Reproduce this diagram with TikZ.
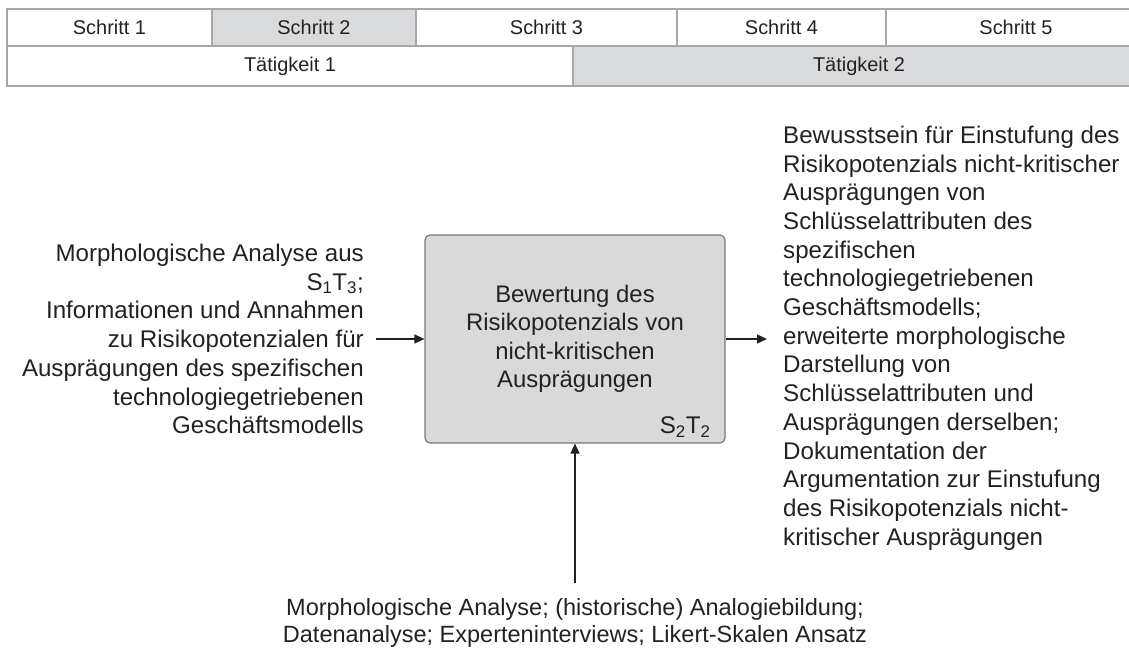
\documentclass[tikz,border=0pt]{standalone}
\usepackage{fontspec}
\setmainfont{Liberation Sans}
\usetikzlibrary{arrows.meta}
\definecolor{ink}{HTML}{222222}
\definecolor{gridline}{HTML}{A8A8A8}
\definecolor{cellfill}{HTML}{D9DADC}
\definecolor{boxfill}{HTML}{D9D9D9}
\definecolor{boxline}{HTML}{6F7B88}
\begin{document}
\begin{tikzpicture}[x=1bp,y=-1bp,
  cell/.style={draw=gridline, line width=1.2bp, inner sep=0pt,
    font=\fontsize{20}{24}\selectfont, text=ink},
  bodytext/.style={inner sep=0pt, text=ink,
    font=\fontsize{24.2}{28.8}\selectfont},
  procbox/.style={draw=boxline, fill=boxfill, line width=1.2bp,
    rounded corners=5bp, minimum width=300bp, minimum height=208bp,
    inner sep=0pt, align=center, text=ink,
    font=\fontsize{24}{28.5}\selectfont},
  arr/.style={draw=ink, line width=1.5bp,
    -{Triangle[length=10bp,width=9bp]}}]
\path[use as bounding box] (0,0) rectangle (1129,648);

% step and activity header
\node[cell, minimum width=205bp, minimum height=37bp] (s1) at (109.5,27.5) {Schritt 1};
\node[cell, fill=cellfill, minimum width=204bp, minimum height=37bp] (s2) at (314,27.5) {Schritt 2};
\node[cell, minimum width=261bp, minimum height=37bp] (s3) at (546.5,27.5) {Schritt 3};
\node[cell, minimum width=209bp, minimum height=37bp] (s4) at (781.5,27.5) {Schritt 4};
\node[cell, minimum width=260bp, minimum height=37bp] (s5) at (1016,27.5) {Schritt 5};
\node[cell, minimum width=566bp, minimum height=40bp] (t1) at (290,66) {Tätigkeit 1};
\node[cell, fill=cellfill, minimum width=572bp, minimum height=40bp] (t2) at (859,66) {Tätigkeit 2};

% process box
\node[procbox] (proc) at (575,339) {Bewertung des\\Risikopotenzials von\\nicht-kritischen\\Ausprägungen};
\node[bodytext, anchor=base east] (tag) at ([xshift=-15bp,yshift=10bp]proc.south east)
  {S\textsubscript{2}T\textsubscript{2}};

% inputs
\node[bodytext, align=right, anchor=east] (inp) at (364,339)
  {Morphologische Analyse aus\\S\textsubscript{1}T\textsubscript{3};\\Informationen und Annahmen\\zu Risikopotenzialen für\\Ausprägungen des spezifischen\\technologiegetriebenen\\Geschäftsmodells};

% outputs
\node[bodytext, align=left, anchor=west] (outp) at (783,338)
  {Bewusstsein für Einstufung des\\Risikopotenzials nicht-kritischer\\Ausprägungen von\\Schlüsselattributen des\\spezifischen\\technologiegetriebenen\\Geschäftsmodells;\\erweiterte morphologische\\Darstellung von\\Schlüsselattributen und\\Ausprägungen derselben;\\Dokumentation der\\Argumentation zur Einstufung\\des Risikopotenzials nicht-\\kritischer Ausprägungen};

% methods
\node[bodytext, align=center, anchor=north, font=\fontsize{23.6}{27}\selectfont] (mech) at (575,598)
  {Morphologische Analyse; (historische) Analogiebildung;\\Datenanalyse; Experteninterviews; Likert-Skalen Ansatz};

% connectors
\draw[arr] (proc.west -| inp.east) ++(12bp,0) -- (proc.west);
\draw[arr] (proc.east) -- ([xshift=-16bp]outp.west |- proc.east);
\draw[arr] ([yshift=15bp]mech.north) -- (proc.south);
\end{tikzpicture}
\end{document}
